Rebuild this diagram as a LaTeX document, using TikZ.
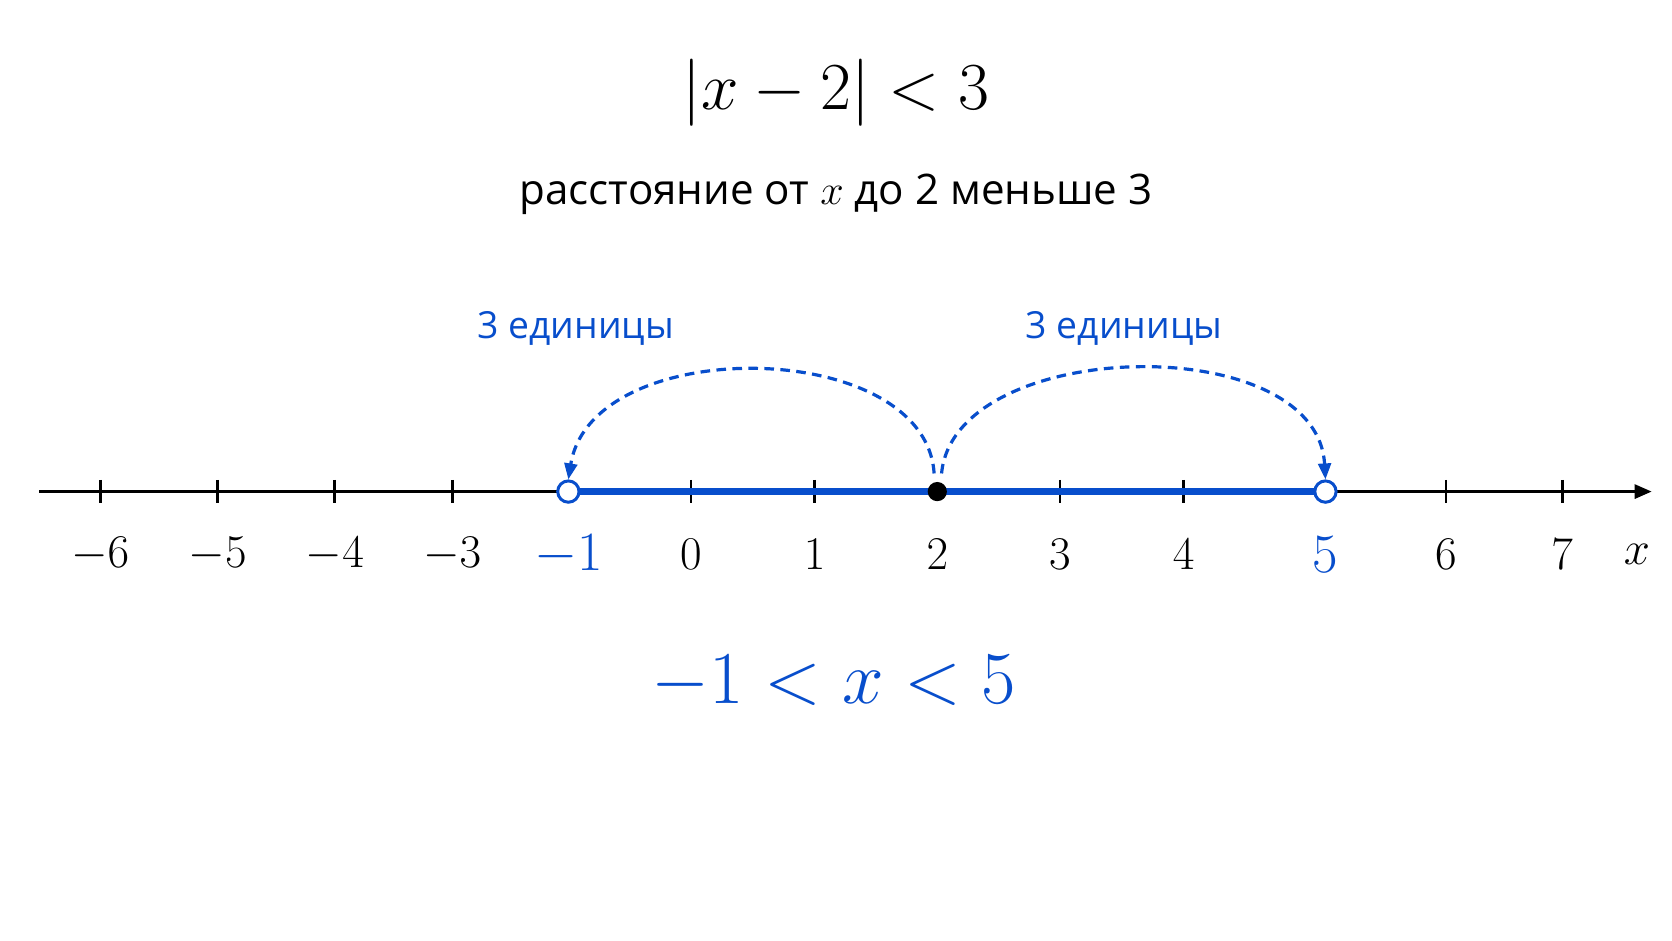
\documentclass[tikz,border=0pt]{standalone}
\usepackage{fix-cm}
\usepackage{fontspec}
\newfontfamily\labelsans{Open Sans}
\usetikzlibrary{arrows.meta}
\definecolor{myblue}{RGB}{8,78,204}
\begin{document}
\begin{tikzpicture}[x=1pt,y=-1pt,
  axisline/.style={line width=3pt,-{Triangle[length=16pt,width=13pt]}},
  tickmark/.style={line width=2.6pt},
  ticklabel/.style={inner sep=0pt,font=\fontsize{44}{48}\selectfont},
  bluelabel/.style={inner sep=0pt,text=myblue,font=\fontsize{52}{56}\selectfont},
  unitlabel/.style={inner sep=0pt,text=myblue,font=\labelsans\fontsize{35}{40}\selectfont},
  opendot/.style={circle,draw=myblue,line width=2.8pt,fill=white,minimum size=20pt,inner sep=0pt},
  fulldot/.style={circle,fill=black,minimum size=18pt,inner sep=0pt},
  hop/.style={myblue,line width=3pt,dash pattern=on 9pt off 6pt,-{Triangle[length=15pt,width=12pt]}},
  interval/.style={myblue,line width=6pt}]
\useasboundingbox (0,0) rectangle (1568,882);
\fill[white] (0,0) rectangle (1568,882);
% title
\node[inner sep=0pt,font=\fontsize{63}{70}\selectfont] (title) at (784,87) {$|x-2|<3$};
\node[inner sep=0pt,font=\labelsans\fontsize{39.5}{44}\selectfont] (sub) at (784,182) {расстояние от $x$ до 2 меньше 3};
% axis
\coordinate (axstart) at (37,461);
\coordinate (axend) at (1549,461);
\draw[axisline] (axstart) -- (axend);
% ticks
\foreach \px/\lab in {94/-6,204/-5,314/-4,424/-3,648/0,764/1,994/3,1110/4,1356/6,1465/7}{
  \draw[tickmark] (\px,450) -- (\px,472);
  \node[ticklabel] at (\px,520) {$\lab$};
}
\node[ticklabel] at (879,520) {$2$};
\node[ticklabel] (xlab) at (1535,520) {$x$};
% interval
\coordinate (pa) at (533,461);
\coordinate (pb) at (1243,461);
\draw[interval] (pa) -- (pb);
\node[opendot] (left) at (pa) {};
\node[opendot] (right) at (pb) {};
\node[fulldot] (mid) at (879,461) {};
\node[bluelabel] (lleft) at (533,520) {$-1$};
\node[bluelabel] (lright) at (1243,520) {$5$};
% hops
\coordinate (sl) at (876,444);
\coordinate (sr) at (883,444);
\draw[hop] (sl) .. controls (868,316) and (555,312) .. (left.north);
\draw[hop] (sr) .. controls (895,316) and (1235,308) .. (right.north);
\node[unitlabel] (ul) at (540,308) {3 единицы};
\node[unitlabel] (ur) at (1054,308) {3 единицы};
% result
\node[inner sep=0pt,text=myblue,font=\fontsize{70}{76}\selectfont] (res) at (782,640) {$-1<x<5$};
\end{tikzpicture}
\end{document}
